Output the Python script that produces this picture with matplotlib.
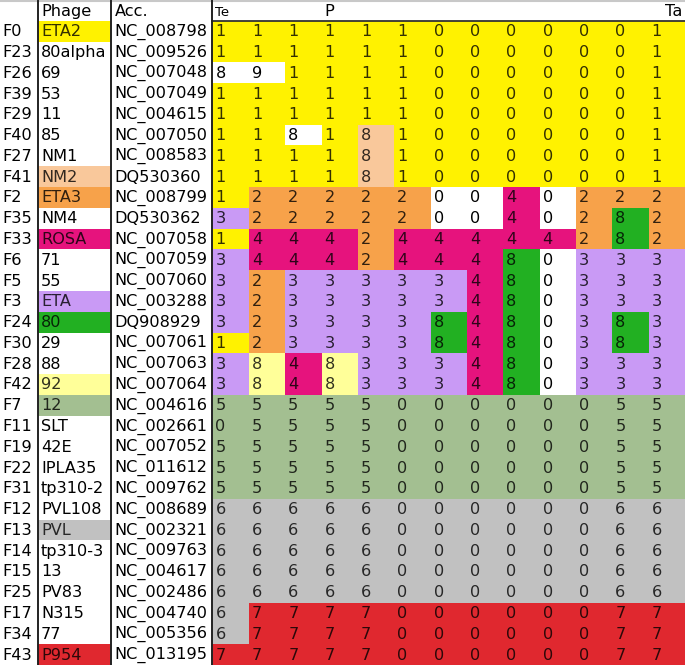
import matplotlib
matplotlib.use("Agg")
import matplotlib.pyplot as plt
from matplotlib.patches import Rectangle
from matplotlib.colors import to_rgb

# table content
fam = ["F0", "F23", "F26", "F39", "F29", "F40", "F27", "F41", "F2", "F35", "F33",
       "F6", "F5", "F3", "F24", "F30", "F28", "F42", "F7", "F11", "F19", "F22",
       "F31", "F12", "F13", "F14", "F15", "F25", "F17", "F34", "F43"]
phage = ["ETA2", "80alpha", "69", "53", "11", "85", "NM1", "NM2", "ETA3", "NM4", "ROSA",
         "71", "55", "ETA", "80", "29", "88", "92", "12", "SLT", "42E", "IPLA35",
         "tp310-2", "PVL108", "PVL", "tp310-3", "13", "PV83", "N315", "77", "P954"]
acc = ["NC_008798", "NC_009526", "NC_007048", "NC_007049", "NC_004615", "NC_007050",
       "NC_008583", "DQ530360", "NC_008799", "DQ530362", "NC_007058", "NC_007059",
       "NC_007060", "NC_003288", "DQ908929", "NC_007061", "NC_007063", "NC_007064",
       "NC_004616", "NC_002661", "NC_007052", "NC_011612", "NC_009762", "NC_008689",
       "NC_002321", "NC_009763", "NC_004617", "NC_002486", "NC_004740", "NC_005356",
       "NC_013195"]
values = [
    "1111110000001", "1111110000001", "8911110000001", "1111110000001",
    "1111110000001", "1181810000001", "1111810000001", "1111810000001",
    "1222220040222", "3222220040282", "1444244444282", "3444244480333",
    "3233333480333", "3233333480333", "3233338480383", "1233338480383",
    "3848333480333", "3848333480333",
    "5555500000055", "0555500000055", "5555500000055", "5555500000055",
    "5555500000055",
    "6666600000066", "6666600000066", "6666600000066", "6666600000066",
    "6666600000066",
    "6777700000077", "6777700000077", "7777700000077",
]
cell_col = [
    "YYYYYYYYYYYYY", "YYYYYYYYYYYYY", "WWYYYYYYYYYYY", "YYYYYYYYYYYYY",
    "YYYYYYYYYYYYY", "YYWYoYYYYYYYY", "YYYYoYYYYYYYY", "YYYYoYYYYYYYY",
    "YOOOOOWWMWOOO", "LOOOOOWWMWOGO", "YMMMOMMMMMOGO", "LMMMOMMMGWLLL",
    "LOLLLLLMGWLLL", "LOLLLLLMGWLLL", "LOLLLLGMGWLGL", "YOLLLLGMGWLGL",
    "LlMlLLLMGWLLL", "LlMlLLLMGWLLL",
    "SSSSSSSSSSSSS", "SSSSSSSSSSSSS", "SSSSSSSSSSSSS", "SSSSSSSSSSSSS",
    "SSSSSSSSSSSSS",
    "ggggggggggggg", "ggggggggggggg", "ggggggggggggg", "ggggggggggggg",
    "ggggggggggggg",
    "gRRRRRRRRRRRR", "gRRRRRRRRRRRR", "RRRRRRRRRRRRR",
]
phage_col = "YWWWWWWoOWMWWLGWWlSWWWWWgWWWWWR"

palette = {"W": "#ffffff", "Y": "#fff200", "o": "#f9c89b", "O": "#f7a24a",
           "M": "#e6137d", "L": "#c99af5", "G": "#22b022", "l": "#ffff99",
           "S": "#a3bf91", "g": "#c1c1c1", "R": "#e0282f"}


def txt_color(code):
    # text looks like a darkened tint of the cell colour
    if code == "W":
        return "black"
    r, g, b = to_rgb(palette[code])
    return (r * 0.2, g * 0.2, b * 0.2)


W, H = 685, 665
fig = plt.figure(figsize=(6.85, 6.65), dpi=100)
ax = fig.add_axes([0, 0, 1, 1])
ax.set_xlim(0, W)
ax.set_ylim(H, 0)
ax.axis("off")

nrows = len(fam) + 1
rh = H / nrows
x_fam, x_ph, x_acc, x_dat = 0, 38, 111.5, 212.5
cw = (W - x_dat) / 13
fs = 11.6

# header
ax.axhline(1, color="#c8c8c8", lw=1.5)
ax.text(x_ph + 3, rh / 2 + 1, "Phage", fontsize=fs, va="center")
ax.text(x_acc + 3, rh / 2 + 1, "Acc.", fontsize=fs, va="center")
ax.text(x_dat + 3, rh / 2 + 2.5, "Te", fontsize=9.5, va="center")
ax.text(x_dat + 3 * cw + 3, rh / 2 + 1, "P", fontsize=fs, va="center")
ax.text(W - 3, rh / 2 + 1, "Ta", fontsize=fs, va="center", ha="right")

for i in range(len(fam)):
    y0 = (i + 1) * rh
    yc = y0 + rh / 2 + 0.5
    ax.text(x_fam + 2, yc, fam[i], fontsize=fs, va="center")
    pc = phage_col[i]
    ax.add_patch(Rectangle((x_ph, y0), x_acc - x_ph, rh, color=palette[pc], lw=0))
    ax.text(x_ph + 3, yc, phage[i], fontsize=fs, va="center", color=txt_color(pc))
    ax.text(x_acc + 3, yc, acc[i], fontsize=fs, va="center")
    for j in range(13):
        code = cell_col[i][j]
        x0 = x_dat + j * cw
        ax.add_patch(Rectangle((x0, y0), cw, rh, color=palette[code], lw=0))
        ax.text(x0 + 3, yc, values[i][j], fontsize=fs, va="center",
                color=txt_color(code))

# separators
ax.plot([x_dat, W], [rh, rh], color="#333333", lw=1.3)
for xv in [x_ph, x_acc, x_dat]:
    ax.plot([xv, xv], [1, H], color="#222222", lw=1.4)

fig.savefig("out.png", dpi=100)
